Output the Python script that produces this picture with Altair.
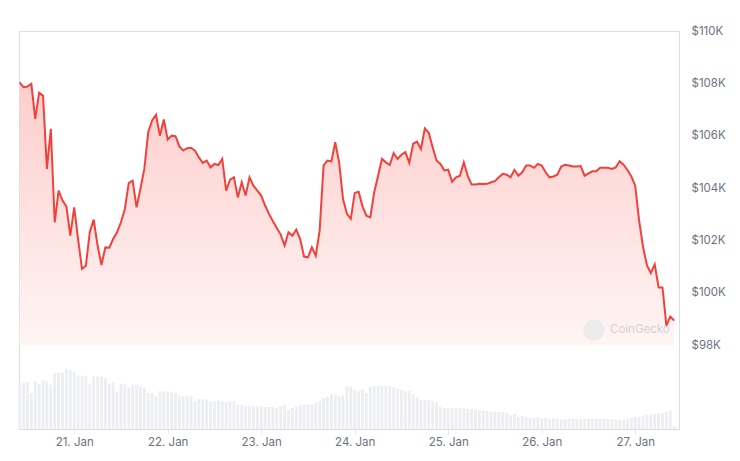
import altair as alt
import pandas as pd

# ---- data (BTC price, thousands USD; hourly) ----
price_hours = list(range(0, 169))
price_k = [
    108.04, 107.85, 107.88, 107.98, 106.64, 107.64, 107.53, 104.73, 106.26, 102.69,
    103.90, 103.52, 103.30, 102.18, 103.26, 102.05, 100.91, 101.03, 102.31, 102.79,
    101.80, 101.06, 101.73, 101.72, 102.05, 102.31, 102.69, 103.20, 104.19, 104.28,
    103.26, 103.97, 104.73, 106.13, 106.58, 106.80, 106.00, 106.62, 105.85, 106.00,
    105.98, 105.59, 105.43, 105.52, 105.54, 105.43, 105.17, 104.96, 105.05, 104.79,
    104.92, 104.88, 105.11, 103.90, 104.32, 104.41, 103.64, 104.22, 103.71, 104.41,
    104.09, 103.90, 103.71, 103.33, 103.01, 102.73, 102.47, 102.22, 101.80, 102.31,
    102.18, 102.41, 102.05, 101.38, 101.35, 101.73, 101.41, 102.37, 104.86, 105.05,
    105.01, 105.75, 104.98, 103.58, 103.01, 102.82, 103.81, 103.86, 103.30, 102.94,
    102.88, 103.84, 104.47, 105.11, 104.98, 104.88, 105.34, 105.11, 105.27, 105.37,
    104.96, 105.69, 105.77, 105.49, 106.28, 106.11, 105.56, 105.05, 104.92, 104.67,
    104.70, 104.24, 104.41, 104.47, 104.98, 104.47, 104.13, 104.13, 104.16, 104.15,
    104.16, 104.22, 104.26, 104.41, 104.54, 104.51, 104.41, 104.69, 104.47, 104.60,
    104.86, 104.86, 104.77, 104.92, 104.86, 104.60, 104.41, 104.44, 104.51, 104.82,
    104.89, 104.86, 104.82, 104.82, 104.84, 104.47, 104.56, 104.64, 104.64, 104.77,
    104.77, 104.77, 104.73, 104.79, 105.02, 104.89, 104.69, 104.44, 104.09, 102.75,
    101.75, 101.05, 100.75, 101.08, 100.20, 100.20, 98.74, 99.09, 98.93,
]

# hourly volume (billions USD)
volume_b = [
    4.67, 4.67, 4.67, 3.60, 4.77, 4.53, 4.87, 4.77, 4.43, 5.53,
    5.60, 5.67, 6.00, 5.93, 5.67, 5.33, 5.27, 5.33, 4.53, 5.27,
    5.27, 5.20, 5.10, 4.53, 4.67, 3.77, 4.53, 4.43, 4.10, 4.43,
    4.43, 4.27, 4.10, 3.60, 3.60, 3.27, 3.77, 3.77, 3.77, 3.67,
    3.60, 3.33, 3.27, 3.27, 3.27, 2.77, 3.00, 3.00, 2.93, 2.77,
    2.77, 2.87, 2.77, 2.67, 2.77, 2.77, 2.43, 2.43, 2.33, 2.27,
    2.27, 2.27, 2.27, 2.20, 2.20, 2.20, 2.10, 2.27, 2.43, 1.93,
    2.10, 2.27, 2.43, 2.43, 2.43, 2.43, 2.60, 2.77, 3.10, 3.20,
    3.43, 3.43, 3.27, 3.33, 4.27, 4.20, 3.93, 3.77, 4.00, 3.60,
    4.20, 4.30, 4.30, 4.30, 4.30, 4.30, 4.20, 4.00, 3.90, 3.77,
    3.80, 3.50, 3.10, 2.90, 2.90, 2.90, 2.80, 2.70, 2.20, 2.10,
    2.10, 2.10, 2.10, 2.10, 2.10, 2.00, 2.00, 1.90, 1.85, 1.85,
    1.80, 1.75, 1.75, 1.70, 1.70, 1.65, 1.35, 1.50, 1.20, 1.30,
    1.20, 1.15, 1.10, 1.20, 1.05, 1.10, 1.00, 1.05, 1.00, 1.00,
    1.00, 1.05, 1.00, 1.00, 1.00, 1.00, 1.00, 1.05, 1.00, 1.00,
    1.05, 1.00, 1.00, 0.95, 0.90, 0.95, 1.00, 1.10, 1.20, 1.20,
    1.30, 1.40, 1.45, 1.50, 1.55, 1.60, 1.70, 1.85, 0.30,
]

start = pd.Timestamp("2025-01-20T10:00:00")
times = [(start + pd.Timedelta(hours=h)).strftime("%Y-%m-%dT%H:%M:%SZ") for h in price_hours]

df = pd.DataFrame({"time": times, "price": price_k, "volume": volume_b})

day_ticks = [alt.DateTime(year=2025, month=1, date=d, utc=True) for d in range(21, 28)]
y_ticks = [98, 100, 102, 104, 106, 108, 110]

x_scale = alt.Scale(
    type="utc",
    padding=0,
    domain=[
        alt.DateTime(year=2025, month=1, date=20, hours=9, minutes=50, utc=True),
        alt.DateTime(year=2025, month=1, date=27, hours=11, minutes=14, utc=True),
    ],
)
price_scale = alt.Scale(domain=[94.79, 110], nice=False, zero=False)
vol_scale = alt.Scale(domain=[0, 39.8], nice=False, padding=0)

x_axis = alt.Axis(
    values=day_ticks,
    format="%d. %b",
    title=None,
    grid=False,
    domain=False,
    tickColor="#e6e8eb",
    tickSize=5,
    labelPadding=2,
    labelColor="#6b7280",
    labelFont="Inter",
    labelFontSize=11.5,
)

base = alt.Chart(df)

volume = base.mark_bar(color="#eceef2", width=2.8).encode(
    x=alt.X("time:T", scale=x_scale, axis=x_axis),
    y=alt.Y("volume:Q", scale=vol_scale, axis=None),
)

area = base.mark_area(
    color=alt.Gradient(
        gradient="linear",
        stops=[
            alt.GradientStop(color="#fccbc9", offset=0),
            alt.GradientStop(color="#fff4f4", offset=1),
        ],
        x1=0, x2=0, y1=0, y2=1,
    ),
    opacity=0.95,
).encode(
    x=alt.X("time:T", scale=x_scale, axis=x_axis),
    y=alt.Y(
        "price:Q",
        scale=price_scale,
        axis=alt.Axis(
            orient="right",
            values=y_ticks,
            labelExpr="'$' + format(datum.value, 'd') + 'K'",
            title=None,
            domain=False,
            ticks=False,
            gridColor="#f1f2f4",
            labelPadding=12,
            labelColor="#6b7280",
            labelFont="Inter",
            labelFontSize=11.5,
        ),
    ),
    y2=alt.datum(98),
)

line = base.mark_line(color="#f2413a", strokeWidth=2).encode(
    x=alt.X("time:T", scale=x_scale),
    y=alt.Y("price:Q", scale=price_scale),
)

wm = pd.DataFrame({"label": ["CoinGecko"]})
logo = alt.Chart(wm).mark_circle(color="#ececec", size=460, opacity=1).encode(
    x=alt.value(575), y=alt.value(299)
)
wm_text = alt.Chart(wm).mark_text(
    align="left", baseline="middle", font="Inter", fontSize=11.5, color="#d2d2d2"
).encode(x=alt.value(591), y=alt.value(299), text="label:N")

price_layers = alt.layer(area, line, logo, wm_text)

chart = (
    alt.layer(volume, price_layers)
    .resolve_scale(y="independent")
    .properties(
        width=660,
        height=398,
        padding={"left": 7, "top": 17, "right": 5, "bottom": 5},
    )
    .configure_view(stroke=None)
    .configure(background="white")
)

chart.save("out.html", embed_options={"renderer": "svg", "actions": False})
